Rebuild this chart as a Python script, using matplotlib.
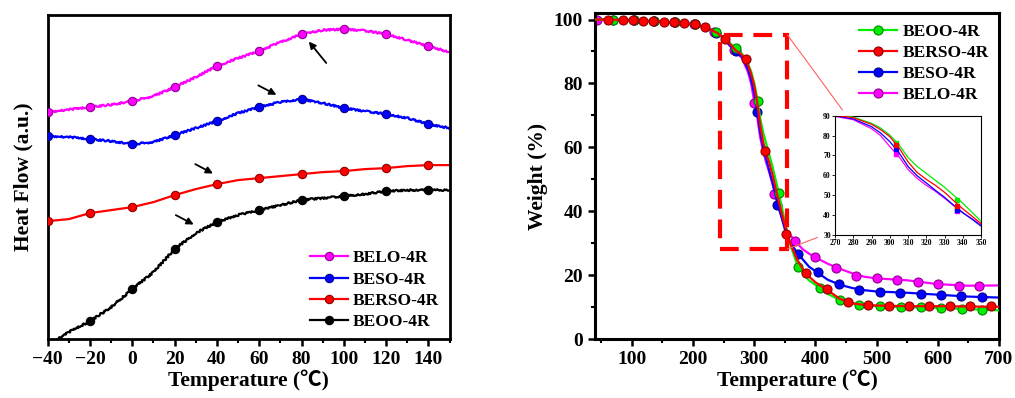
import numpy as np
import matplotlib
matplotlib.use("Agg")
import matplotlib.pyplot as plt
from matplotlib.lines import Line2D
from matplotlib.patches import Rectangle, ConnectionPatch

plt.rcParams['font.family'] = ['Liberation Serif', 'DejaVu Serif', 'DejaVu Sans']
plt.rcParams['font.weight'] = 'bold'
plt.rcParams['axes.labelweight'] = 'bold'

# ---- DSC (left) ----
dsc_temp = [-40, -30, -20, -10, 0, 10, 20, 30, 40, 50, 60, 70, 80, 90, 100, 110, 120, 130, 140, 150]
dsc_belo = [227, 229.5, 232, 234.5, 238, 243, 252, 262, 273, 281, 288, 297, 305, 309, 310, 308.5, 305, 299, 293, 287]
dsc_beso = [203, 202, 200, 198, 195, 197, 204, 211, 218, 226, 232, 237, 240, 236, 231, 228, 225, 221, 215, 211]
dsc_berso = [118, 120, 126, 129, 132, 137, 144, 150, 155, 159, 161, 163, 165, 167, 168, 170, 171, 173, 174, 174]
dsc_beoo = [-6, 7, 18, 32, 50, 67, 90, 106, 117, 124, 129, 134, 139, 141, 143, 145, 148, 149, 149, 149]
dsc_labels = ['BELO-4R', 'BESO-4R', 'BERSO-4R', 'BEOO-4R']

# ---- TGA (right) ----
tga_temp = [40, 60, 80, 100, 120, 140, 160, 180, 200, 220, 240, 250, 260, 270, 280, 290, 295, 300,
            305, 310, 315, 320, 325, 330, 335, 340, 345, 350, 355, 360, 370, 380, 390, 400, 420,
            440, 460, 480, 500, 550, 600, 650, 700]
tga_early = [100, 100, 99.9, 99.8, 99.6, 99.4, 99.2, 98.9, 98.5, 97.6, 95.8, 94.2]
tga_beoo = tga_early + [92.8, 90.6, 89.3, 86.2, 83.8, 80.3, 75.5, 69.0, 64.5, 61.0, 57.5, 54.0, 50.0,
                        46.0, 41.5, 37.0, 33.0, 29.0, 23.5, 20.5, 18.3, 17.0, 14.2, 12.2, 11.2, 10.7,
                        10.3, 10.0, 9.8, 9.4, 9.0]
tga_berso = tga_early + [92.5, 90.3, 89.0, 85.7, 83.0, 79.5, 74.0, 66.8, 61.5, 58.0, 55.0, 51.5, 47.3,
                         43.2, 39.5, 35.8, 32.5, 29.5, 25.0, 21.8, 19.5, 17.8, 15.3, 12.6, 11.2, 10.7,
                         10.5, 10.3, 10.3, 10.2, 10.1]
tga_beso = tga_early + [92.0, 90.0, 88.4, 84.5, 81.3, 77.0, 71.5, 64.5, 59.8, 56.2, 52.5, 49.0, 45.0,
                        41.2, 38.0, 34.5, 31.8, 29.8, 27.2, 24.8, 22.6, 21.3, 18.6, 17.0, 16.0, 15.3,
                        14.9, 14.5, 13.9, 13.3, 13.0]
tga_belo = tga_early + [91.8, 89.7, 88.0, 83.5, 80.0, 74.5, 69.5, 63.0, 58.5, 55.0, 52.0, 48.5, 44.8,
                        41.3, 38.2, 35.2, 33.6, 32.3, 30.0, 28.0, 26.7, 25.6, 23.6, 22.0, 20.6, 19.5,
                        19.0, 18.4, 17.2, 16.7, 16.8]

# marker positions
mk_beoo_t = [70, 103, 137, 170, 204, 237, 271, 306, 340, 372, 407, 440, 472, 506, 540, 573, 606, 640, 673]
mk_beoo_w = [100, 99.8, 99.5, 99.2, 98.6, 96.2, 91.2, 74.5, 45.8, 22.6, 16.0, 12.2, 10.8, 10.3, 10.0, 9.9, 9.8, 9.5, 9.2]
mk_berso_t = [62, 86, 102, 119, 135, 152, 169, 186, 203, 220, 252, 286, 318, 352, 385, 419, 453, 486, 520, 553, 586, 620, 653, 687]
mk_berso_w = [100, 99.8, 99.7, 99.6, 99.5, 99.3, 99.2, 99.0, 98.6, 97.6, 93.8, 87.5, 59.0, 33.0, 20.7, 15.8, 11.7, 10.6, 10.4, 10.3, 10.3, 10.2, 10.2, 10.2]
mk_beso_t = [70, 103, 137, 170, 204, 237, 270, 305, 338, 372, 405, 438, 472, 505, 538, 572, 605, 638, 672]
mk_beso_w = [100, 99.8, 99.5, 99.2, 98.7, 95.9, 90.3, 71.0, 42.0, 26.6, 21.0, 17.2, 15.5, 14.8, 14.5, 14.2, 13.9, 13.4, 13.2]
mk_belo_t = [43, 103, 136, 169, 202, 234, 267, 300, 333, 366, 400, 434, 467, 500, 534, 567, 600, 634, 667]
mk_belo_w = [100, 99.8, 99.5, 99.2, 98.7, 96.1, 90.5, 74.0, 45.5, 30.8, 25.6, 22.1, 19.7, 19.0, 18.5, 18.0, 17.2, 16.7, 16.7]

inset_mk_t = [303.5, 337]
inset_mk_beoo = [76.5, 47.5]
inset_mk_berso = [75.5, 44.5]
inset_mk_beso = [73.5, 42.5]
inset_mk_belo = [71, 42]

MAG, BLU, RED, BLK, GRN = '#ff00ff', '#0000ff', '#ff0000', '#000000', '#00ee00'
LABEL_FONT = ['Liberation Serif', 'Noto Sans CJK SC', 'DejaVu Sans']


def darker(c):
    rgb = np.array(matplotlib.colors.to_rgb(c))
    return tuple(rgb * 0.55)


fig = plt.figure(figsize=(10.15, 3.98), dpi=100)

# ================= left: DSC =================
ax1 = fig.add_axes([0.047, 0.148, 0.396, 0.814])
series_l = [(dsc_belo, MAG, True), (dsc_beso, BLU, True), (dsc_berso, RED, False), (dsc_beoo, BLK, True)]
handles = []
for (vals, col, noisy), lab in zip(series_l, dsc_labels):
    ln, = ax1.plot(dsc_temp, vals, color=col, lw=1.6, zorder=2)
    if noisy:
        ln.set_sketch_params(scale=0.9, length=2.5, randomness=3)
    ax1.plot(dsc_temp[::2], vals[::2], ls='none', marker='o', ms=6, mfc=col,
             mec=darker(col), mew=0.8, zorder=3)
    handles.append(Line2D([], [], color=col, lw=1.6, marker='o', ms=6, mfc=col,
                          mec=darker(col), mew=0.8, label=lab))

ax1.set_xlim(-40, 150)
ax1.set_ylim(0, 324)
ax1.set_yticks([])
ax1.set_xticks(range(-40, 141, 20))
ax1.set_xticks(range(-30, 151, 20), minor=True)
ax1.tick_params(axis='x', which='major', direction='out', length=5, width=1.8, labelsize=14)
ax1.tick_params(axis='x', which='minor', direction='out', length=3, width=1.5)
for s in ax1.spines.values():
    s.set_linewidth(2)
ax1.set_xlabel('Temperature (℃)', fontsize=15.5, labelpad=1, family=LABEL_FONT)
ax1.set_ylabel('Heat Flow (a.u.)', fontsize=15.5, labelpad=10)
ax1.legend(handles=handles, loc='lower right', bbox_to_anchor=(1.0, -0.005), frameon=False,
           fontsize=12.5, handlelength=2.2, handletextpad=0.3, labelspacing=0.3,
           borderaxespad=0.2)

arrows = [((92.5, 274), (82.6, 299.7)), ((58.4, 255), (69.3, 243)),
          ((28.6, 176.3), (39.3, 164.3)), ((19.4, 125.3), (30.2, 113.3))]
for tail, head in arrows:
    ax1.annotate('', xy=head, xytext=tail,
                 arrowprops=dict(arrowstyle='-|>', color='black', lw=1.3, mutation_scale=10))

# ================= right: TGA =================
ax2 = fig.add_axes([0.5862, 0.148, 0.398, 0.819])
series_r = [
    ('BEOO-4R', tga_beoo, mk_beoo_t, mk_beoo_w, GRN, 3),
    ('BERSO-4R', tga_berso, mk_berso_t, mk_berso_w, RED, 5),
    ('BESO-4R', tga_beso, mk_beso_t, mk_beso_w, BLU, 2),
    ('BELO-4R', tga_belo, mk_belo_t, mk_belo_w, MAG, 1),
]
handles2 = []
for lab, vals, mt, mw, col, z in series_r:
    ax2.plot(tga_temp, vals, color=col, lw=1.6, zorder=z)
    ax2.plot(mt, mw, ls='none', marker='o', ms=6.5, mfc=col, mec=darker(col), mew=0.8, zorder=z + 0.5)
    handles2.append(Line2D([], [], color=col, lw=1.6, marker='o', ms=6.5, mfc=col,
                           mec=darker(col), mew=0.8, label=lab))

ax2.set_xlim(40, 700)
ax2.set_ylim(0, 102)
ax2.set_xticks(range(100, 701, 100))
ax2.set_xticks(range(50, 701, 100), minor=True)
ax2.set_yticks(range(0, 101, 20))
ax2.set_yticks(range(10, 101, 20), minor=True)
ax2.tick_params(which='major', direction='out', length=5, width=1.8, labelsize=14)
ax2.tick_params(which='minor', direction='out', length=3, width=1.5)
for s in ax2.spines.values():
    s.set_linewidth(2.2)
ax2.set_xlabel('Temperature (℃)', fontsize=15.5, labelpad=1, family=LABEL_FONT)
ax2.set_ylabel('Weight (%)', fontsize=15.5, labelpad=4)
ax2.legend(handles=handles2, loc='upper right', bbox_to_anchor=(1.0, 1.0), frameon=False,
           fontsize=12.5, handlelength=2.2, handletextpad=0.3, labelspacing=0.28,
           borderaxespad=0.2)

rect = Rectangle((245, 28.2), 109.4, 67, fill=False, ec=RED, lw=3,
                 ls=(0, (4.5, 2.6)), zorder=6)
ax2.add_patch(rect)

# ---- inset ----
axin = fig.add_axes([0.8227, 0.4095, 0.1438, 0.2997])
inset_marks = [inset_mk_beoo, inset_mk_berso, inset_mk_beso, inset_mk_belo]
for (lab, vals, mt, mw, col, z), imk in zip(series_r, inset_marks):
    axin.plot(tga_temp, vals, color=col, lw=0.9, zorder=z)
    axin.plot(inset_mk_t, imk, ls='none', marker='s', ms=2.2, color=col, zorder=z)
axin.set_xlim(270, 350)
axin.set_ylim(30, 90)
axin.set_xticks(range(270, 351, 10))
axin.set_yticks(range(30, 91, 10))
axin.tick_params(direction='out', length=2, width=0.6, labelsize=5.5, pad=1)
for s in axin.spines.values():
    s.set_linewidth(0.8)

con1 = ConnectionPatch(xyA=(354.4, 95.2), coordsA=ax2.transData,
                       xyB=(0.05, 1.05), coordsB=axin.transAxes, color='#ff6060', lw=0.8)
con2 = ConnectionPatch(xyA=(354.4, 28.2), coordsA=ax2.transData,
                       xyB=(-0.12, -0.02), coordsB=axin.transAxes, color='#ff6060', lw=0.8)
fig.add_artist(con1)
fig.add_artist(con2)

fig.savefig('out.png', dpi=100)
